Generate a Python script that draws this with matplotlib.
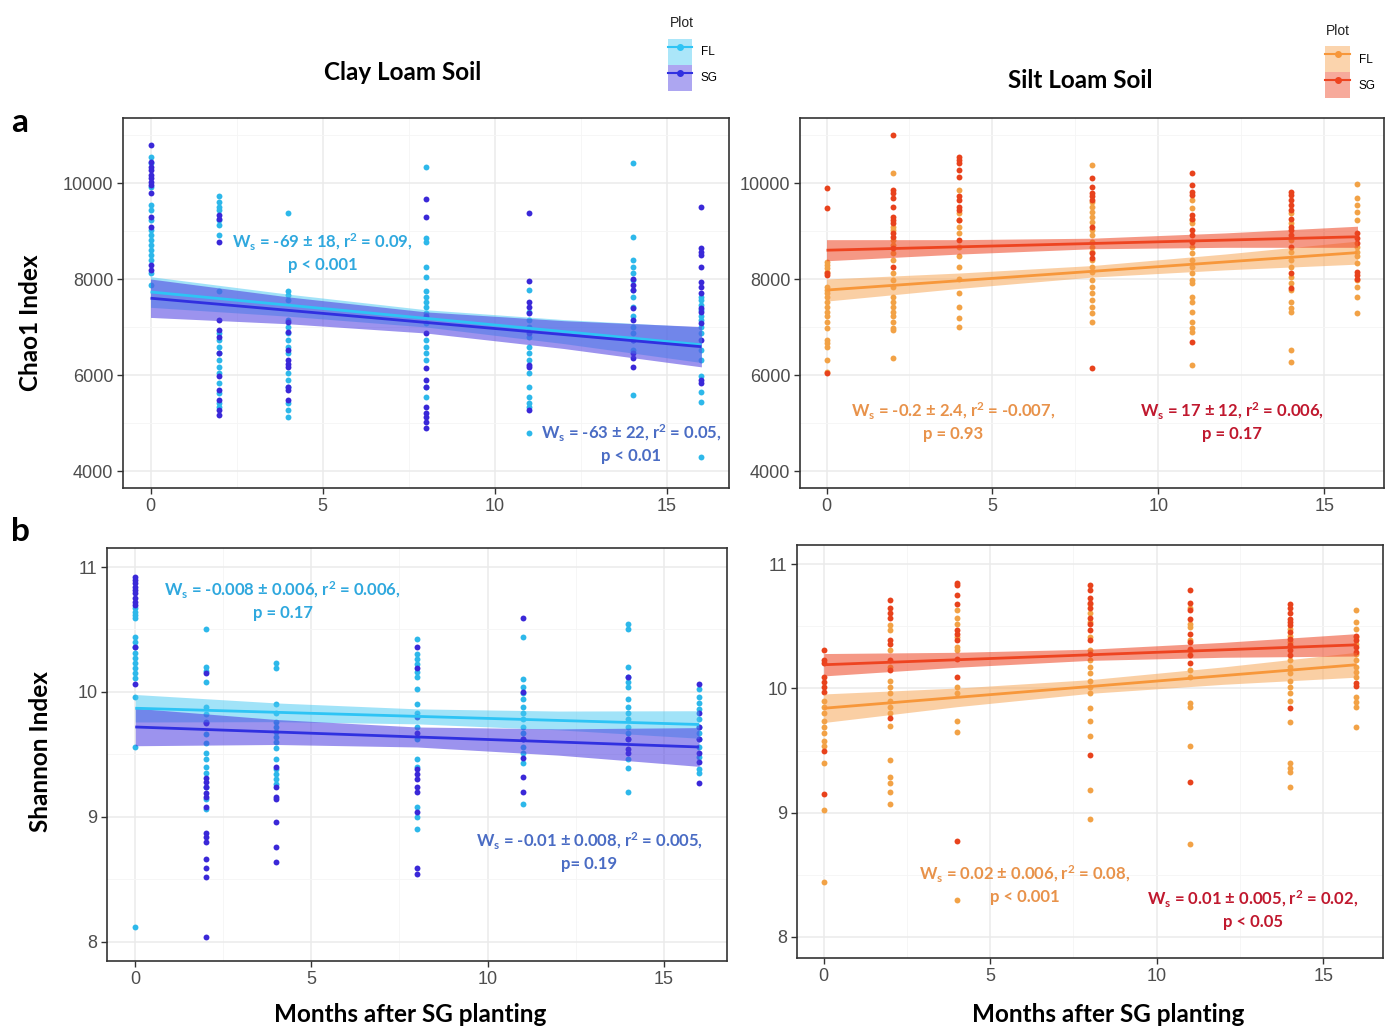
import matplotlib
matplotlib.use('Agg')
import matplotlib.pyplot as plt
import numpy as np
from matplotlib.lines import Line2D
from matplotlib.patches import Patch
from matplotlib.legend_handler import HandlerTuple

# sampling months and x positions where the confidence bands were read
months = [0, 2, 4, 8, 11, 14, 16]
band_x = [0, 4, 8, 12, 16]

# ---- Chao1, clay loam soil (one list per month) ----
chao_clay_fl = [
    [10550, 10410, 9920, 9540, 9440, 9230, 9020, 8920, 8810, 8710, 8600, 8500, 8400, 8120, 7880],
    [9720, 9610, 9510, 9440, 9230, 9130, 8920, 7740, 6870, 6730, 6590, 6450, 6310, 6170, 6040, 5830, 5620, 5410, 5340],
    [9370, 7740, 7670, 7560, 7150, 7010, 6870, 6730, 6590, 6450, 6040, 5900, 5760, 5410, 5270, 5130],
    [10340, 8850, 8780, 8260, 8050, 7740, 7630, 7530, 7420, 7290, 7080, 6730, 6590, 6450, 6310, 5760, 5550],
    [7770, 7320, 7150, 7010, 6800, 6590, 6450, 6310, 6040, 5760, 5550, 5410, 5340, 4790],
    [10410, 8880, 8400, 8260, 8120, 7980, 7770, 7630, 7420, 7220, 7010, 6870, 6730, 6520, 5580],
    [7630, 7560, 7460, 7350, 7220, 7150, 7010, 6870, 6520, 6310, 5970, 5650, 5440, 4300],
]
chao_clay_sg = [
    [10790, 10440, 10340, 10270, 10170, 10100, 10030, 9960, 9790, 9300, 9090, 8290, 8190],
    [9330, 9260, 8780, 7150, 6940, 6800, 6450, 5970, 5690, 5480, 5270, 5170],
    [7110, 6900, 6520, 6310, 6240, 6170, 5760, 5690, 5480],
    [9670, 9300, 7220, 6870, 6140, 5900, 5760, 5340, 5200, 5130, 5030, 4890],
    [9370, 7960, 7530, 7420, 7290, 6870, 6210, 6170, 5270],
    [8010, 7880, 7770, 7390, 7150, 6730, 6450, 6350, 6170],
    [9510, 8640, 8570, 8500, 8260, 7940, 7840, 7700, 7390, 7320, 7080, 6730, 5900, 5830],
]
chao_clay_fl_line = [7730, 6630]
chao_clay_sg_line = [7600, 6590]
chao_clay_fl_band = [320, 230, 180, 250, 370]
chao_clay_sg_band = [400, 280, 220, 290, 420]

# ---- Chao1, silt loam soil ----
chao_silt_fl = [
    [8360, 8290, 8220, 8150, 7840, 7770, 7700, 7630, 7530, 7420, 7320, 7220, 7110, 6970, 6730, 6660, 6590, 6310, 6070],
    [10200, 9090, 9020, 8810, 8710, 8540, 8400, 8120, 7980, 7840, 7630, 7530, 7420, 7320, 7220, 7110, 6970, 6940, 6350],
    [9850, 9370, 9230, 9090, 8950, 8670, 8470, 8260, 8010, 7700, 7420, 7180, 7010],
    [10380, 9610, 9510, 9400, 9300, 9190, 9020, 8920, 8780, 8670, 8570, 8400, 8260, 8150, 7980, 7840, 7700, 7560, 7420, 7290, 7110],
    [9650, 9470, 9230, 9160, 8670, 8540, 8400, 8260, 8120, 7980, 7910, 7630, 7530, 7320, 7110, 6970, 6900, 6210],
    [9370, 9160, 8810, 8570, 8400, 8260, 8050, 7910, 7770, 7530, 7390, 7320, 6520, 6280],
    [9980, 9680, 9540, 9400, 9230, 8670, 8570, 8470, 8330, 7980, 7840, 7630, 7290],
]
chao_silt_sg = [
    [9890, 9470, 8120, 8080, 6040],
    [11000, 9850, 9790, 9680, 9510, 9300, 9230, 9160, 8950, 8880, 8640, 8260],
    [10550, 10480, 10410, 10270, 10130, 9720, 9650, 9510, 9440, 9230, 8810],
    [10100, 9920, 9790, 9720, 9650, 9090, 8540, 8430, 6140],
    [10200, 9960, 9820, 9750, 9330, 9260, 9020, 8920, 8780, 6690],
    [9820, 9750, 9650, 9540, 9440, 9260, 9090, 9020, 8920, 8670, 8120, 7810],
    [8950, 8850, 8740, 8150, 8080, 8010],
]
chao_silt_fl_line = [7770, 8550]
chao_silt_sg_line = [8600, 8880]
chao_silt_fl_band = [230, 160, 120, 165, 240]
chao_silt_sg_band = [220, 150, 110, 150, 220]

# ---- Shannon, clay loam soil ----
shan_clay_fl = [
    [10.67, 10.64, 10.62, 10.59, 10.44, 10.40, 10.36, 10.31, 10.27, 10.23, 10.19, 10.15, 10.11, 9.96, 9.56, 8.12],
    [10.50, 10.20, 10.17, 10.08, 9.88, 9.82, 9.66, 9.59, 9.51, 9.46, 9.40, 9.35, 9.24, 9.14, 9.06],
    [10.23, 10.19, 9.90, 9.83, 9.76, 9.72, 9.68, 9.64, 9.60, 9.55, 9.46, 9.38, 9.34, 9.30, 9.26],
    [10.42, 10.30, 10.26, 10.22, 10.16, 10.12, 10.02, 9.90, 9.83, 9.72, 9.62, 9.46, 9.40, 9.08, 9.00, 8.90],
    [10.44, 10.10, 10.04, 9.99, 9.94, 9.88, 9.83, 9.78, 9.72, 9.67, 9.62, 9.56, 9.51, 9.43, 9.10],
    [10.54, 10.50, 10.20, 10.12, 10.08, 10.04, 9.94, 9.88, 9.83, 9.78, 9.72, 9.67, 9.62, 9.46, 9.39, 9.20],
    [10.02, 9.96, 9.91, 9.86, 9.78, 9.72, 9.67, 9.62, 9.56, 9.48, 9.38, 9.35],
]
shan_clay_sg = [
    [10.92, 10.90, 10.87, 10.84, 10.82, 10.79, 10.75, 10.72, 10.70, 10.36, 10.06],
    [10.15, 9.76, 9.75, 9.31, 9.28, 9.24, 9.19, 9.16, 9.08, 8.87, 8.84, 8.80, 8.66, 8.59, 8.52, 8.04],
    [9.40, 9.24, 9.16, 9.14, 8.96, 8.76, 8.64],
    [10.36, 10.19, 9.80, 9.67, 9.38, 9.34, 9.30, 9.24, 9.20, 9.04, 8.59, 8.54],
    [10.59, 10.00, 9.62, 9.47, 9.32, 9.20],
    [10.12, 9.62, 9.54, 9.51],
    [10.06, 9.83, 9.72, 9.62, 9.51, 9.44, 9.27],
]
shan_clay_fl_line = [9.87, 9.74]
shan_clay_sg_line = [9.72, 9.56]
shan_clay_fl_band = [0.11, 0.075, 0.06, 0.075, 0.11]
shan_clay_sg_band = [0.15, 0.10, 0.08, 0.105, 0.155]

# ---- Shannon, silt loam soil ----
shan_silt_fl = [
    [9.90, 9.85, 9.80, 9.74, 9.69, 9.64, 9.58, 9.54, 9.40, 9.02, 8.44],
    [10.51, 10.47, 10.31, 10.17, 10.06, 10.01, 9.96, 9.90, 9.85, 9.80, 9.70, 9.42, 9.29, 9.24, 9.17, 9.07],
    [10.63, 10.57, 10.52, 10.41, 10.33, 10.31, 10.01, 9.96, 9.74, 9.65, 8.30],
    [10.68, 10.61, 10.53, 10.41, 10.31, 10.23, 10.17, 10.12, 10.06, 10.01, 9.96, 9.84, 9.74, 9.62, 9.18, 8.95],
    [10.65, 10.52, 10.49, 10.39, 10.31, 10.15, 10.09, 9.88, 9.85, 9.54, 8.75],
    [10.48, 10.42, 10.37, 10.23, 10.17, 10.12, 10.06, 10.01, 9.96, 9.90, 9.73, 9.40, 9.36, 9.33, 9.21],
    [10.63, 10.53, 10.48, 10.41, 10.36, 10.28, 10.23, 10.17, 10.13, 10.09, 9.93, 9.89, 9.85, 9.69],
]
shan_silt_sg = [
    [10.31, 10.23, 10.20, 10.09, 10.05, 10.01, 9.97, 9.50, 9.15],
    [10.71, 10.65, 10.61, 10.57, 10.39, 10.36, 10.23, 10.15, 9.76],
    [10.85, 10.83, 10.75, 10.68, 10.47, 10.44, 10.39, 10.24, 10.09, 8.77],
    [10.83, 10.79, 10.73, 10.69, 10.65, 10.57, 10.52, 10.47, 10.39, 10.28, 9.46],
    [10.79, 10.69, 10.63, 10.56, 10.44, 10.37, 10.32, 10.27, 10.20, 9.25],
    [10.68, 10.65, 10.61, 10.56, 10.53, 10.51, 10.45, 10.40, 10.35, 10.31, 10.27, 9.84],
    [10.42, 10.39, 10.33, 10.29, 10.04, 10.02],
]
shan_silt_fl_line = [9.84, 10.19]
shan_silt_sg_line = [10.19, 10.35]
shan_silt_fl_band = [0.115, 0.075, 0.055, 0.07, 0.10]
shan_silt_sg_band = [0.09, 0.06, 0.045, 0.06, 0.09]

# colours: point, line, band, text
clay_fl = dict(pt='#2DB8EA', line='#2EC4F5', band='#45C8F2', txt='#2FA8DE')
clay_sg = dict(pt='#3A28D8', line='#3030E0', band='#4B3BE0', txt='#4A6CC4')
silt_fl = dict(pt='#F2A246', line='#F7973A', band='#F7A04A', txt='#E8924A')
silt_sg = dict(pt='#E8421C', line='#EE4420', band='#EE4422', txt='#C0182E')

TXT = 'Lato'
TICK = 'Liberation Sans'

fig = plt.figure(figsize=(13.85, 10.27), dpi=100)


def expand(values):
    xs, ys = [], []
    for m, vals in zip(months, values):
        xs += [m] * len(vals)
        ys += vals
    return xs, ys


def draw_group(ax, pts, c, z):
    xs, ys = expand(pts)
    ax.scatter(xs, ys, s=18, color=c['pt'], linewidths=0, zorder=2 + z)


def draw_fit(ax, line, band, c, alpha):
    bx = np.array(band_x, dtype=float)
    centre = line[0] + (line[1] - line[0]) * bx / 16.0
    hw = np.array(band)
    ax.fill_between(bx, centre - hw, centre + hw, color=c['band'], alpha=alpha,
                    linewidth=0, zorder=4)
    ax.plot([0, 16], line, color=c['line'], lw=2.0, zorder=5, solid_capstyle='butt')


def style(ax, ylim, yticks, yminor):
    ax.set_xlim(-0.8, 16.8)
    ax.set_ylim(*ylim)
    ax.set_xticks([0, 5, 10, 15])
    ax.set_xticks([2.5, 7.5, 12.5], minor=True)
    ax.set_yticks(yticks)
    ax.set_yticks(yminor, minor=True)
    ax.grid(which='major', color='#EBEBEB', lw=1.1)
    ax.grid(which='minor', color='#F5F5F5', lw=0.6)
    ax.set_axisbelow(True)
    ax.tick_params(which='minor', length=0)
    ax.tick_params(which='major', length=4, width=1, color='#333333',
                   labelcolor='#4D4D4D', labelsize=13, pad=3)
    for lab in ax.get_xticklabels() + ax.get_yticklabels():
        lab.set_family(TICK)
    for sp in ax.spines.values():
        sp.set_color('#333333')
        sp.set_linewidth(1.2)


def note(ax, x, y, s, color):
    ax.text(x, y, s, ha='center', va='center', color=color, fontsize=12,
            fontweight='bold', family=TXT, linespacing=1.3, zorder=6)


WS = 'W$\\mathregular{_s}$'
R2 = 'r$\\mathregular{^2}$'

ax1 = fig.add_axes([0.0888, 0.5248, 0.4375, 0.3603])
ax2 = fig.add_axes([0.5776, 0.5248, 0.4217, 0.3603])
ax3 = fig.add_axes([0.0773, 0.0643, 0.4477, 0.4021])
ax4 = fig.add_axes([0.5755, 0.0672, 0.4231, 0.4021])

chao_ticks = [4000, 6000, 8000, 10000]
chao_minor = [5000, 7000, 9000, 11000]
shan_ticks = [8, 9, 10, 11]
shan_minor = [8.5, 9.5, 10.5]

# panel a, clay
draw_group(ax1, chao_clay_fl, clay_fl, 0)
draw_group(ax1, chao_clay_sg, clay_sg, 1)
draw_fit(ax1, chao_clay_fl_line, chao_clay_fl_band, clay_fl, 0.5)
draw_fit(ax1, chao_clay_sg_line, chao_clay_sg_band, clay_sg, 0.55)
style(ax1, (3646, 11354), chao_ticks, chao_minor)
note(ax1, 5.0, 8560, f'{WS} = -69 ± 18, {R2} = 0.09,\np < 0.001', clay_fl['txt'])
note(ax1, 13.97, 4583, f'{WS} = -63 ± 22, {R2} = 0.05,\np < 0.01', clay_sg['txt'])

# panel a, silt
draw_group(ax2, chao_silt_fl, silt_fl, 0)
draw_group(ax2, chao_silt_sg, silt_sg, 1)
draw_fit(ax2, chao_silt_fl_line, chao_silt_fl_band, silt_fl, 0.5)
draw_fit(ax2, chao_silt_sg_line, chao_silt_sg_band, silt_sg, 0.55)
style(ax2, (3646, 11354), chao_ticks, chao_minor)
note(ax2, 3.81, 5042, f'{WS} = -0.2 ± 2.4, {R2} = -0.007,\np = 0.93', silt_fl['txt'])
note(ax2, 12.22, 5042, f'{WS} = 17 ± 12, {R2} = 0.006,\np = 0.17', silt_sg['txt'])

# panel b, clay
draw_group(ax3, shan_clay_fl, clay_fl, 0)
draw_group(ax3, shan_clay_sg, clay_sg, 1)
draw_fit(ax3, shan_clay_fl_line, shan_clay_fl_band, clay_fl, 0.5)
draw_fit(ax3, shan_clay_sg_line, shan_clay_sg_band, clay_sg, 0.55)
style(ax3, (7.848, 11.152), shan_ticks, shan_minor)
note(ax3, 4.19, 10.736, f'{WS} = -0.008 ± 0.006, {R2} = 0.006,\np = 0.17', clay_fl['txt'])
note(ax3, 12.89, 8.724, f'{WS} = -0.01 ± 0.008, {R2} = 0.005,\np= 0.19', clay_sg['txt'])

# panel b, silt
draw_group(ax4, shan_silt_fl, silt_fl, 0)
draw_group(ax4, shan_silt_sg, silt_sg, 1)
draw_fit(ax4, shan_silt_fl_line, shan_silt_fl_band, silt_fl, 0.5)
draw_fit(ax4, shan_silt_sg_line, shan_silt_sg_band, silt_sg, 0.55)
style(ax4, (7.831, 11.153), shan_ticks, shan_minor)
note(ax4, 6.04, 8.426, f'{WS} = 0.02 ± 0.006, {R2} = 0.08,\np < 0.001', silt_fl['txt'])
note(ax4, 12.89, 8.225, f'{WS} = 0.01 ± 0.005, {R2} = 0.02,\np < 0.05', silt_sg['txt'])

# titles, axis labels, panel letters
big = dict(fontsize=17.5, fontweight='bold', family=TXT, ha='center', va='center')
fig.text(0.291, 0.929, 'Clay Loam Soil', **big)
fig.text(0.780, 0.922, 'Silt Loam Soil', **big)
fig.text(0.0144, 0.881, 'a', ha='center', va='center', fontsize=24, fontweight='bold', family=TXT)
fig.text(0.0144, 0.482, 'b', ha='center', va='center', fontsize=24, fontweight='bold', family=TXT)
fig.text(0.0217, 0.6855, 'Chao1 Index', rotation=90, **big)
fig.text(0.0289, 0.268, 'Shannon Index', rotation=90, **big)
fig.text(0.296, 0.0125, 'Months after SG planting', **big)
fig.text(0.800, 0.0125, 'Months after SG planting', **big)


def legend_handles(fl, sg):
    hs = []
    for c in (fl, sg):
        hs.append((Patch(facecolor=c['band'], alpha=0.45, linewidth=0),
                   Line2D([], [], color=c['line'], lw=1.5, marker='o', ms=4)))
    return hs


# legend title placed as text so the keys can sit a little lower
for (fl, sg), title_xy, anchor in [((clay_fl, clay_sg), (0.4835, 0.978), (0.482, 0.962)),
                                   ((silt_fl, silt_sg), (0.9575, 0.970), (0.957, 0.955))]:
    fig.text(title_xy[0], title_xy[1], 'Plot', ha='left', va='center',
             fontsize=10, family=TICK, color='#222222')
    fig.legend(legend_handles(fl, sg), ['FL', 'SG'],
               loc='upper left', bbox_to_anchor=anchor, frameon=False,
               handler_map={tuple: HandlerTuple(ndivide=1)},
               prop={'family': TICK, 'size': 8.5},
               handlelength=2.1, handleheight=3.0, labelspacing=0,
               handletextpad=0.7, borderpad=0, borderaxespad=0)

fig.savefig('out.png', dpi=100)
